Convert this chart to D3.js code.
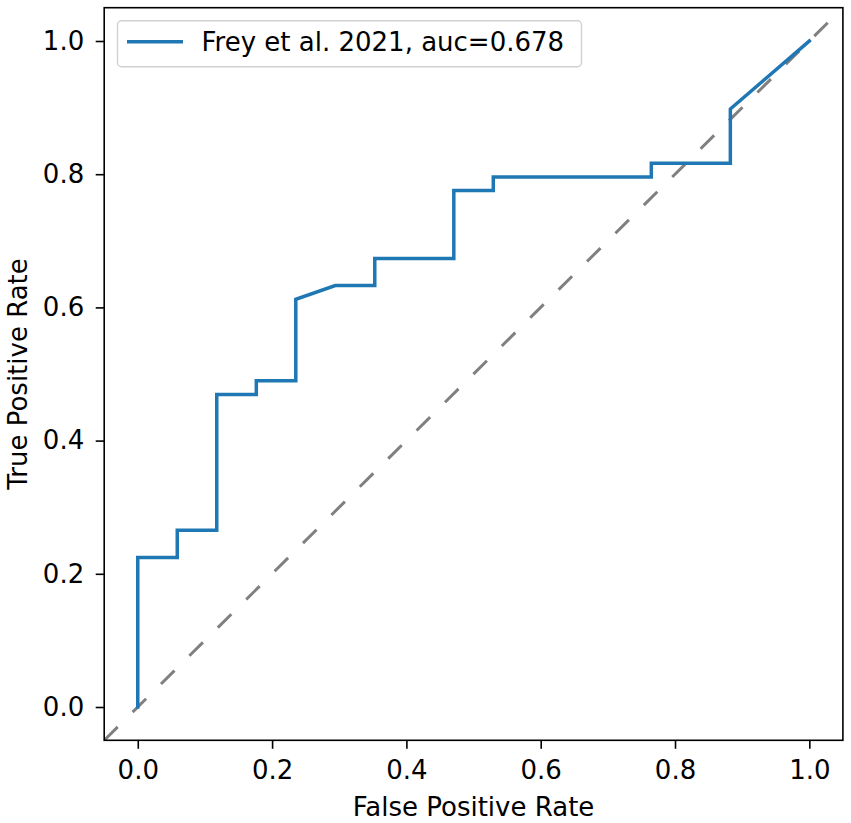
<!DOCTYPE html>
<html>
<head>
<meta charset="utf-8">
<script src="https://cdn.jsdelivr.net/npm/d3@7"></script>
<style>
  html, body { margin: 0; padding: 0; background: #fff; }
  svg text { font-family: "DejaVu Sans", sans-serif; fill: #000; }
</style>
</head>
<body>
<div id="chart"></div>
<script>
// ROC curve points
const fpr = [0, 0, 0.0588, 0.0588, 0.1176, 0.1176, 0.1765, 0.1765, 0.2353, 0.2353, 0.2941, 0.3529, 0.3529, 0.4706, 0.4706, 0.5294, 0.5294, 0.7647, 0.7647, 0.8824, 0.8824, 1.0];
const tpr = [0, 0.2245, 0.2245, 0.2653, 0.2653, 0.4694, 0.4694, 0.4898, 0.4898, 0.6122, 0.6327, 0.6327, 0.6735, 0.6735, 0.7755, 0.7755, 0.7959, 0.7959, 0.8163, 0.8163, 0.898, 1.0];
const chance = [-0.05, 1.05];
const ticks = [0.0, 0.2, 0.4, 0.6, 0.8, 1.0];
const seriesLabel = "Frey et al. 2021, auc=0.678";

const width = 851, height = 823;
const margin = { left: 104.2, right: 851 - 842.9, top: 7.7, bottom: 823 - 740.3 };
const fontSize = "26px";

const svg = d3.select("#chart").append("svg")
  .attr("width", width).attr("height", height)
  .attr("viewBox", [0, 0, width, height]);

const x = d3.scaleLinear().domain([-0.05, 1.05]).range([margin.left, width - margin.right]);
const y = d3.scaleLinear().domain([-0.05, 1.05]).range([height - margin.bottom, margin.top]);

svg.append("defs").append("clipPath").attr("id", "clip")
  .append("rect").attr("x", x(-0.05)).attr("y", y(1.05))
  .attr("width", x(1.05) - x(-0.05)).attr("height", y(-0.05) - y(1.05));

const plot = svg.append("g").attr("clip-path", "url(#clip)");

// chance diagonal
plot.append("path")
  .datum(chance)
  .attr("fill", "none").attr("stroke", "#808080").attr("stroke-width", 3)
  .attr("stroke-dasharray", "19,21")
  .attr("d", d3.line().x(d => x(d)).y(d => y(d)));

// ROC curve
plot.append("path")
  .datum(d3.zip(fpr, tpr))
  .attr("fill", "none").attr("stroke", "#1f77b4").attr("stroke-width", 3.5)
  .attr("stroke-linejoin", "miter").attr("stroke-linecap", "square")
  .attr("d", d3.line().x(d => x(d[0])).y(d => y(d[1])));

// axes
const xAxis = svg.append("g").attr("transform", `translate(0,${y(-0.05)})`)
  .call(d3.axisBottom(x).tickValues(ticks).tickFormat(d3.format(".1f")).tickSize(8.5).tickPadding(11.5));
const yAxis = svg.append("g").attr("transform", `translate(${x(-0.05)},0)`)
  .call(d3.axisLeft(y).tickValues(ticks).tickFormat(d3.format(".1f")).tickSize(8.5).tickPadding(11.5));

[xAxis, yAxis].forEach(a => {
  a.select(".domain").remove();
  a.selectAll(".tick line").attr("stroke", "#000").attr("stroke-width", 1.6);
  a.selectAll(".tick text").attr("font-size", fontSize).attr("font-family", "DejaVu Sans");
});

// frame
svg.append("rect")
  .attr("x", x(-0.05)).attr("y", y(1.05))
  .attr("width", x(1.05) - x(-0.05)).attr("height", y(-0.05) - y(1.05))
  .attr("fill", "none").attr("stroke", "#000").attr("stroke-width", 1.6);

// axis labels
svg.append("text")
  .attr("x", (x(-0.05) + x(1.05)) / 2).attr("y", 816)
  .attr("text-anchor", "middle").attr("font-size", fontSize)
  .text("False Positive Rate");
svg.append("text")
  .attr("transform", `translate(27,${(y(-0.05) + y(1.05)) / 2}) rotate(-90)`)
  .attr("text-anchor", "middle").attr("font-size", fontSize)
  .text("True Positive Rate");

// legend
const legend = svg.append("g");
legend.append("rect")
  .attr("x", 117.5).attr("y", 20.7).attr("width", 464).attr("height", 46)
  .attr("rx", 4).attr("fill", "#fff").attr("fill-opacity", 0.8)
  .attr("stroke", "#d0d0d0").attr("stroke-width", 1.4);
legend.append("line")
  .attr("x1", 127).attr("x2", 183).attr("y1", 41.7).attr("y2", 41.7)
  .attr("stroke", "#1f77b4").attr("stroke-width", 3.5);
legend.append("text")
  .attr("x", 201.5).attr("y", 50.8)
  .attr("font-size", fontSize).text(seriesLabel);
</script>
</body>
</html>
